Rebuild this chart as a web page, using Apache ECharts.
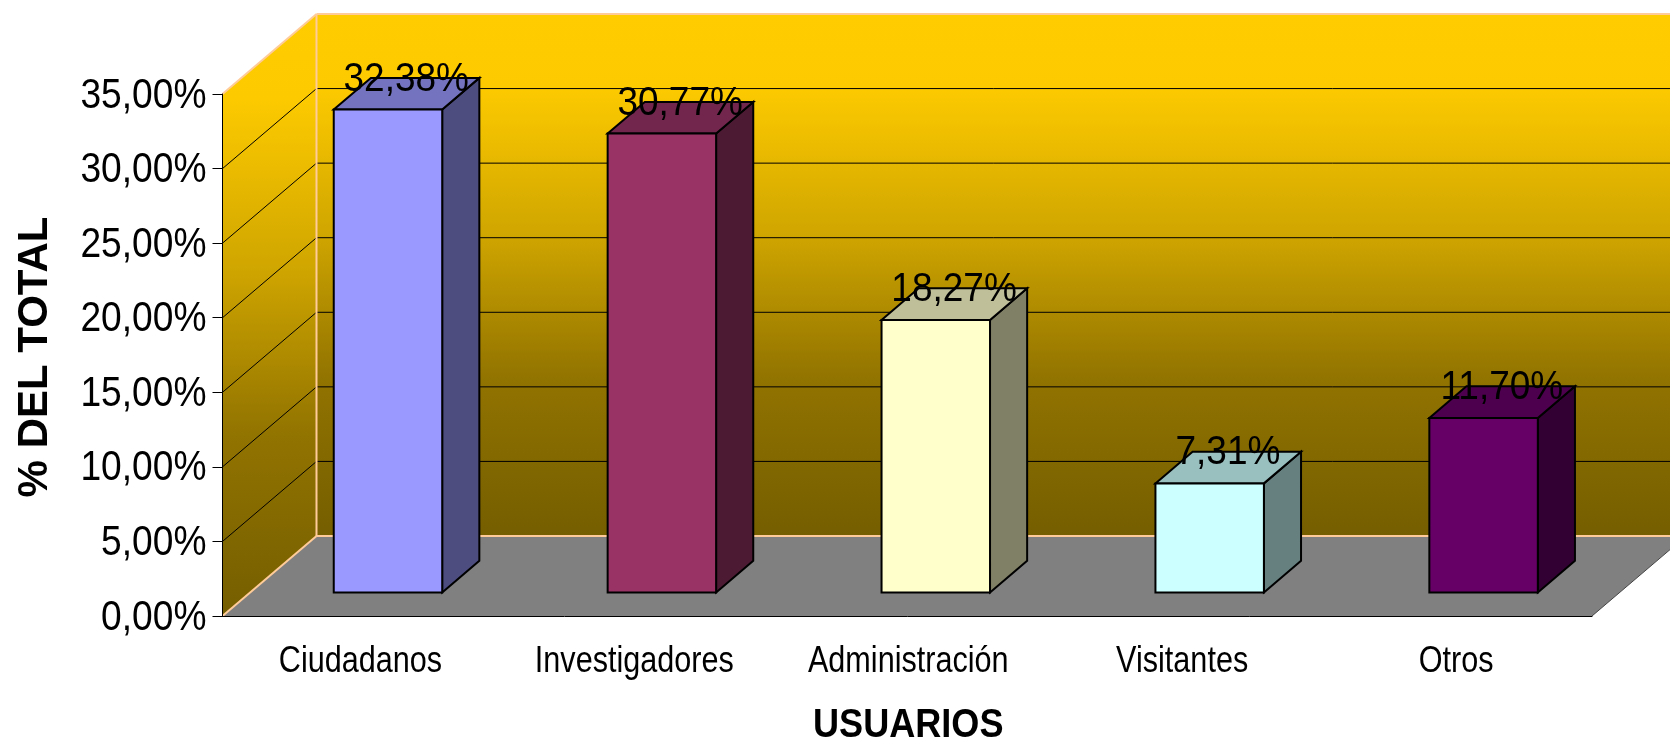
<!DOCTYPE html>
<html>
<head>
<meta charset="utf-8">
<title>Usuarios</title>
<script src="https://cdn.jsdelivr.net/npm/echarts@6/dist/echarts.min.js"></script>
<style>
	html, body { margin: 0; padding: 0; background: #fff; }
	#chart { width: 1670px; height: 743px; }
</style>
</head>
<body>
<div id="chart"></div>
<script>
var categories = ['Ciudadanos', 'Investigadores', 'Administración', 'Visitantes', 'Otros'];
var values = [32.38, 30.77, 18.27, 7.31, 11.70];
var yTicks = [0, 5, 10, 15, 20, 25, 30, 35];
var barColors = ['#9999FF', '#993366', '#FFFFCC', '#CCFFFF', '#660066'];
var xTitle = 'USUARIOS';
var yTitle = '% DEL TOTAL';

// fake 3d: how far the back wall sits from the axis plane, in pixels
var DEPTH_X = 94;
var DEPTH_Y = 80;
var BAR_WIDTH = 0.396; // share of one category band
var BAR_FRONT = 0.295; // bar position inside the floor depth
var BAR_BACK = 0.69;
var BAR_NUDGE = 0.8;
var FONT = '"Liberation Sans", Arial, sans-serif';

function pct(v) {
	return v.toFixed(2).replace('.', ',') + '%';
}

function shade(hex, k) {
	var n = parseInt(hex.slice(1), 16);
	return 'rgb(' + Math.round((n >> 16 & 255) * k) + ',' + Math.round((n >> 8 & 255) * k) + ',' + Math.round((n & 255) * k) + ')';
}

function wallGradient() {
	return new echarts.graphic.LinearGradient(0, 0, 0, 1, [
		{ offset: 0, color: '#FFCC00' },
		{ offset: 0.14, color: '#FDCA00' },
		{ offset: 0.42, color: '#D0A600' },
		{ offset: 0.7, color: '#917300' },
		{ offset: 1, color: '#755E00' }
	]);
}

function poly(points, style) {
	return { type: 'polygon', shape: { points: points }, style: style };
}

function segment(x1, y1, x2, y2, stroke, width, z2) {
	return {
		type: 'line',
		shape: { x1: x1, y1: y1, x2: x2, y2: y2 },
		style: { stroke: stroke, lineWidth: width, fill: null },
		z2: z2 || 0
	};
}

// the reference text is squeezed sideways, so labels are drawn with a scale
function label(text, x, y, font, scaleX, align, rotation) {
	return {
		type: 'text',
		z2: 5,
		x: x,
		y: y,
		scaleX: scaleX,
		rotation: rotation || 0,
		style: {
			x: 0,
			y: 0,
			text: text,
			font: font,
			fill: '#000',
			align: align,
			verticalAlign: 'middle'
		}
	};
}

function renderWalls(params, api) {
	var g = params.coordSys;
	var left = g.x, right = g.x + g.width, bottom = g.y + g.height;
	var top = api.coord([0, yTicks[yTicks.length - 1]])[1];
	var backL = left + DEPTH_X, backR = right + DEPTH_X;
	var floorY = bottom - DEPTH_Y, roofY = top - DEPTH_Y;
	var edge = '#FFCC99';
	var kids = [
		poly([[left, top], [backL, roofY], [backL, floorY], [left, bottom]], { fill: wallGradient() }),
		poly([[backL, roofY], [backR, roofY], [backR, floorY], [backL, floorY]], { fill: wallGradient() }),
		poly([[left, bottom], [backL, floorY], [backR, floorY], [right, bottom]], { fill: '#808080' })
	];
	yTicks.slice(1, -1).forEach(function (t) {
		var y = api.coord([0, t])[1];
		kids.push(segment(left, y, backL, y - DEPTH_Y, '#000', 1, 1));
		kids.push(segment(backL, y - DEPTH_Y, backR, y - DEPTH_Y, '#000', 1, 1));
	});
	kids.push(segment(left, top, backL, roofY, edge, 2, 2));
	kids.push(segment(backL, roofY, backR, roofY, edge, 2, 2));
	kids.push(segment(backL, roofY, backL, floorY, edge, 2, 2));
	kids.push(segment(left, bottom, backL, floorY, edge, 2, 2));
	kids.push(segment(backL, floorY, backR, floorY, edge, 2, 2));
	kids.push(segment(right, bottom, backR, floorY, '#444', 1, 2));

	yTicks.forEach(function (t) {
		kids.push(label(pct(t), left - 16, api.coord([0, t])[1] + 2, '42px ' + FONT, 0.885, 'right'));
	});
	categories.forEach(function (c, i) {
		kids.push(label(c, api.coord([i, 0])[0] + 1, bottom + 46, '36px ' + FONT, 0.85, 'center'));
	});
	kids.push(label(xTitle, g.x + g.width / 2 + 1, bottom + 110, 'bold 41px ' + FONT, 0.88, 'center'));
	kids.push(label(yTitle, left - 187, g.y + g.height / 2 + 2, 'bold 42px ' + FONT, 1, 'center', Math.PI / 2));
	return { type: 'group', children: kids };
}

function renderBar(params, api) {
	var i = api.value(0);
	var v = api.value(1);
	var base = api.coord([i, 0]);
	var top = api.coord([i, v]);
	var w = api.size([1, 0])[0] * BAR_WIDTH;
	var fx = DEPTH_X * BAR_FRONT, fy = DEPTH_Y * BAR_FRONT;
	var bx = DEPTH_X * BAR_BACK, by = DEPTH_Y * BAR_BACK;
	var x0 = base[0] + fx + BAR_NUDGE - w / 2, x1 = x0 + w;
	var yb = base[1] - fy, yt = top[1] - fy;
	var ox = bx - fx, oy = by - fy;
	var color = barColors[i];
	var line = { stroke: '#000', lineWidth: 2, lineJoin: 'miter' };
	function st(fill) { return Object.assign({ fill: fill }, line); }
	return {
		type: 'group',
		children: [
			poly([[x1, yb], [x1 + ox, yb - oy], [x1 + ox, yt - oy], [x1, yt]], st(shade(color, 0.5))),
			poly([[x0, yt], [x1, yt], [x1 + ox, yt - oy], [x0 + ox, yt - oy]], st(shade(color, 0.75))),
			poly([[x0, yb], [x1, yb], [x1, yt], [x0, yt]], st(color)),
			label(pct(v), base[0] + fx + ox / 2 + 0.5, yt - 30, '40px ' + FONT, 0.925, 'center')
		]
	};
}

var chart = echarts.init(document.getElementById('chart'));
chart.setOption({
	animation: false,
	backgroundColor: '#fff',
	grid: { left: 222.5, top: 94, width: 1369.5, height: 522, containLabel: false, outerBoundsMode: 'none' },
	xAxis: {
		type: 'category',
		data: categories,
		z: 5,
		axisLine: { lineStyle: { color: '#000', width: 1 } },
		axisTick: { length: 11, lineStyle: { color: '#000' } },
		axisLabel: { show: false }
	},
	yAxis: {
		type: 'value',
		min: 0,
		max: 35,
		interval: 5,
		z: 5,
		splitLine: { show: false },
		axisLine: { show: true, lineStyle: { color: '#000', width: 1 } },
		axisTick: { show: true, length: 10, lineStyle: { color: '#000' } },
		axisLabel: { show: false }
	},
	series: [
		{
			type: 'custom',
			z: 1,
			silent: true,
			data: [[0, 0]],
			encode: { x: 0, y: 1 },
			renderItem: renderWalls
		},
		{
			type: 'custom',
			z: 2,
			data: values.map(function (v, i) { return [i, v]; }),
			encode: { x: 0, y: 1 },
			renderItem: renderBar
		}
	]
});
</script>
</body>
</html>
